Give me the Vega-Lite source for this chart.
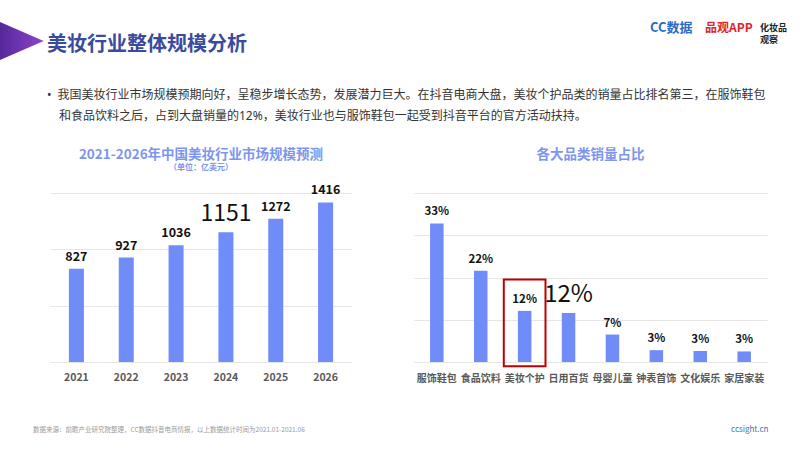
{
  "$schema": "https://vega.github.io/schema/vega-lite/v6.json",
  "background": "white",
  "padding": {"left": 0, "top": 16, "right": 10, "bottom": 0},
  "config": {
    "font": "Noto Sans CJK SC",
    "view": {"stroke": null},
    "axis": {"gridColor": "#e6e6e6", "gridWidth": 1}
  },
  "spacing": -26,
  "vconcat": [
    {
      "width": 717,
      "height": 24,
      "encoding": {
        "x": {"field": "logo", "type": "nominal", "scale": {"type": "point", "padding": 0, "domain": ["CC数据", "品观APP", "化妆品观察"], "range": [600, 710]}, "axis": null}
      },
      "layer": [
        {
          "data": {"values": [{"logo": "CC数据"}]},
          "mark": {"type": "text", "align": "left", "baseline": "middle", "fontSize": 13, "fontWeight": "bold", "color": "#2B6CC4"},
          "encoding": {"text": {"field": "logo"}}
        },
        {
          "data": {"values": [{"logo": "品观APP"}]},
          "mark": {"type": "text", "align": "left", "baseline": "middle", "fontSize": 12, "fontWeight": "bold", "color": "#E0262C"},
          "encoding": {"text": {"field": "logo"}}
        },
        {
          "data": {"values": [{"logo": "化妆品观察", "show": "化妆品\n观察"}]},
          "mark": {"type": "text", "align": "left", "baseline": "middle", "fontSize": 9, "fontWeight": "bold", "lineBreak": "\n", "lineHeight": 12, "color": "#222222"},
          "encoding": {"text": {"field": "show"}}
        },
        {
          "data": {"values": [{"shape": "triangle"}]},
          "mark": {"type": "point", "shape": "M -1 -1 L 1.3 0 L -1 1 Z", "filled": true, "size": 1444, "opacity": 1, "color": {"gradient": "linear", "x1": 0, "y1": 0, "x2": 1, "y2": 0, "stops": [{"offset": 0, "color": "#55289A"}, {"offset": 1, "color": "#8E44CC"}]}},
          "encoding": {"x": {"value": -31}, "y": {"value": 25}}
        }
      ]
    },
    {
      "spacing": 42,
      "vconcat": [
        {
          "title": {
            "text": "美妆行业整体规模分析",
            "subtitle": ["•\u2002我国美妆行业市场规模预期向好，呈稳步增长态势，发展潜力巨大。在抖音电商大盘，美妆个护品类的销量占比排名第三，在服饰鞋包", "\u200b\u2002\u2002和食品饮料之后，占到大盘销量的12%，美妆行业也与服饰鞋包一起受到抖音平台的官方活动扶持。"],
            "anchor": "start",
            "dx": -3,
            "fontSize": 20,
            "fontWeight": "bold",
            "color": "#3A4A9F",
            "subtitleFont": "Noto Sans, Noto Sans CJK SC",
            "subtitleFontSize": 12,
            "subtitleColor": "#333333",
            "subtitlePadding": 35,
            "subtitleLineHeight": 21,
            "offset": 26
          },
          "spacing": 62,
          "hconcat": [
            {
              "width": 302,
              "height": 169,
              "title": {
                "text": "2021-2026年中国美妆行业市场规模预测",
                "subtitle": "（单位：亿美元）",
                "anchor": "middle",
                "fontSize": 13.5,
                "fontWeight": "bold",
                "color": "#7C95F0",
                "subtitleFontSize": 8,
                "subtitleFontWeight": "bold",
                "subtitleColor": "#7C95F0",
                "subtitlePadding": 3,
                "offset": 12
              },
              "data": {"values": [
                {"year": "2021", "value": 827},
                {"year": "2022", "value": 927},
                {"year": "2023", "value": 1036},
                {"year": "2024", "value": 1151},
                {"year": "2025", "value": 1272},
                {"year": "2026", "value": 1416}
              ]},
              "encoding": {
                "x": {"field": "year", "type": "ordinal", "scale": {"paddingInner": 0, "paddingOuter": 0.03}, "axis": {"title": null, "labelAngle": 0, "labelFontSize": 10.5, "labelFontWeight": "bold", "labelColor": "#595959", "labelPadding": 10, "ticks": false, "domain": false}},
                "y": {"field": "value", "type": "quantitative", "scale": {"domain": [0, 1500]}, "axis": {"title": null, "values": [0, 500, 1000, 1500], "labels": false, "ticks": false, "domain": false}}
              },
              "layer": [
                {"mark": {"type": "bar", "width": 15, "color": "#6F8CF8"}},
                {
                  "transform": [{"filter": "datum.year != '2024'"}],
                  "mark": {"type": "text", "baseline": "alphabetic", "dy": -8, "fontSize": 12.5, "fontWeight": "bold", "color": "#111111"},
                  "encoding": {"text": {"field": "value", "type": "quantitative", "format": "d"}}
                },
                {
                  "transform": [{"filter": "datum.year == '2024'"}],
                  "mark": {"type": "text", "baseline": "alphabetic", "dy": -11.5, "fontSize": 23, "fontWeight": "normal", "color": "#111111"},
                  "encoding": {"text": {"field": "value", "type": "quantitative", "format": "d"}}
                }
              ]
            },
            {
              "width": 353,
              "height": 169,
              "title": {
                "text": "各大品类销量占比",
                "anchor": "middle",
                "fontSize": 13.5,
                "fontWeight": "bold",
                "color": "#7C95F0",
                "offset": 32
              },
              "data": {"values": [
                {"category": "服饰鞋包", "share": 32.8, "label": "33%"},
                {"category": "食品饮料", "share": 21.6, "label": "22%"},
                {"category": "美妆个护", "share": 12.1, "label": "12%"},
                {"category": "日用百货", "share": 11.6, "label": "12%"},
                {"category": "母婴儿童", "share": 6.5, "label": "7%"},
                {"category": "钟表首饰", "share": 2.8, "label": "3%"},
                {"category": "文化娱乐", "share": 2.6, "label": "3%"},
                {"category": "家居家装", "share": 2.5, "label": "3%"}
              ]},
              "encoding": {
                "x": {"field": "category", "type": "nominal", "sort": null, "scale": {"paddingInner": 0, "paddingOuter": 0.02}, "axis": {"title": null, "labelAngle": 0, "labelFontSize": 10, "labelFontWeight": "bold", "labelColor": "#595959", "labelPadding": 11, "ticks": false, "domain": false}},
                "y": {"field": "share", "type": "quantitative", "scale": {"domain": [0, 40]}, "axis": {"title": null, "values": [0, 10, 20, 30, 40], "labels": false, "ticks": false, "domain": false}}
              },
              "layer": [
                {"mark": {"type": "bar", "width": 13.5, "color": "#6F8CF8"}},
                {
                  "transform": [{"filter": "datum.category != '日用百货'"}],
                  "mark": {"type": "text", "baseline": "alphabetic", "dy": -8, "fontSize": 11.5, "fontWeight": "bold", "color": "#111111"},
                  "encoding": {"text": {"field": "label"}}
                },
                {
                  "transform": [{"filter": "datum.category == '日用百货'"}],
                  "mark": {"type": "text", "baseline": "alphabetic", "dy": -11, "fontSize": 24, "fontWeight": "normal", "color": "#111111"},
                  "encoding": {"text": {"field": "label"}}
                },
                {
                  "transform": [{"filter": "datum.category == '美妆个护'"}],
                  "mark": {"type": "bar", "filled": false, "color": "#C00000", "strokeWidth": 2, "width": {"band": 0.95}},
                  "encoding": {"y": {"datum": 19.5, "type": "quantitative"}, "y2": {"datum": -1}}
                }
              ]
            }
          ]
        },
        {
          "width": 717,
          "height": 10,
          "data": {"values": [
            {"part": "src", "t": "数据来源：前瞻产业研究院整理，CC数据抖音电商情报，以上数据统计时间为2021.01-2021.06"},
            {"part": "site", "t": "ccsight.cn"}
          ]},
          "encoding": {
            "x": {"field": "part", "type": "nominal", "scale": {"type": "point", "padding": 0, "domain": ["src", "site"], "range": [-17, 681]}, "axis": null},
            "text": {"field": "t"}
          },
          "layer": [
            {"transform": [{"filter": "datum.part == 'src'"}], "mark": {"type": "text", "align": "left", "baseline": "middle", "fontSize": 6.5, "color": "#9A9A9A"}},
            {"transform": [{"filter": "datum.part == 'site'"}], "mark": {"type": "text", "align": "left", "baseline": "middle", "fontSize": 8, "color": "#3A72B8"}}
          ]
        }
      ]
    }
  ]
}
